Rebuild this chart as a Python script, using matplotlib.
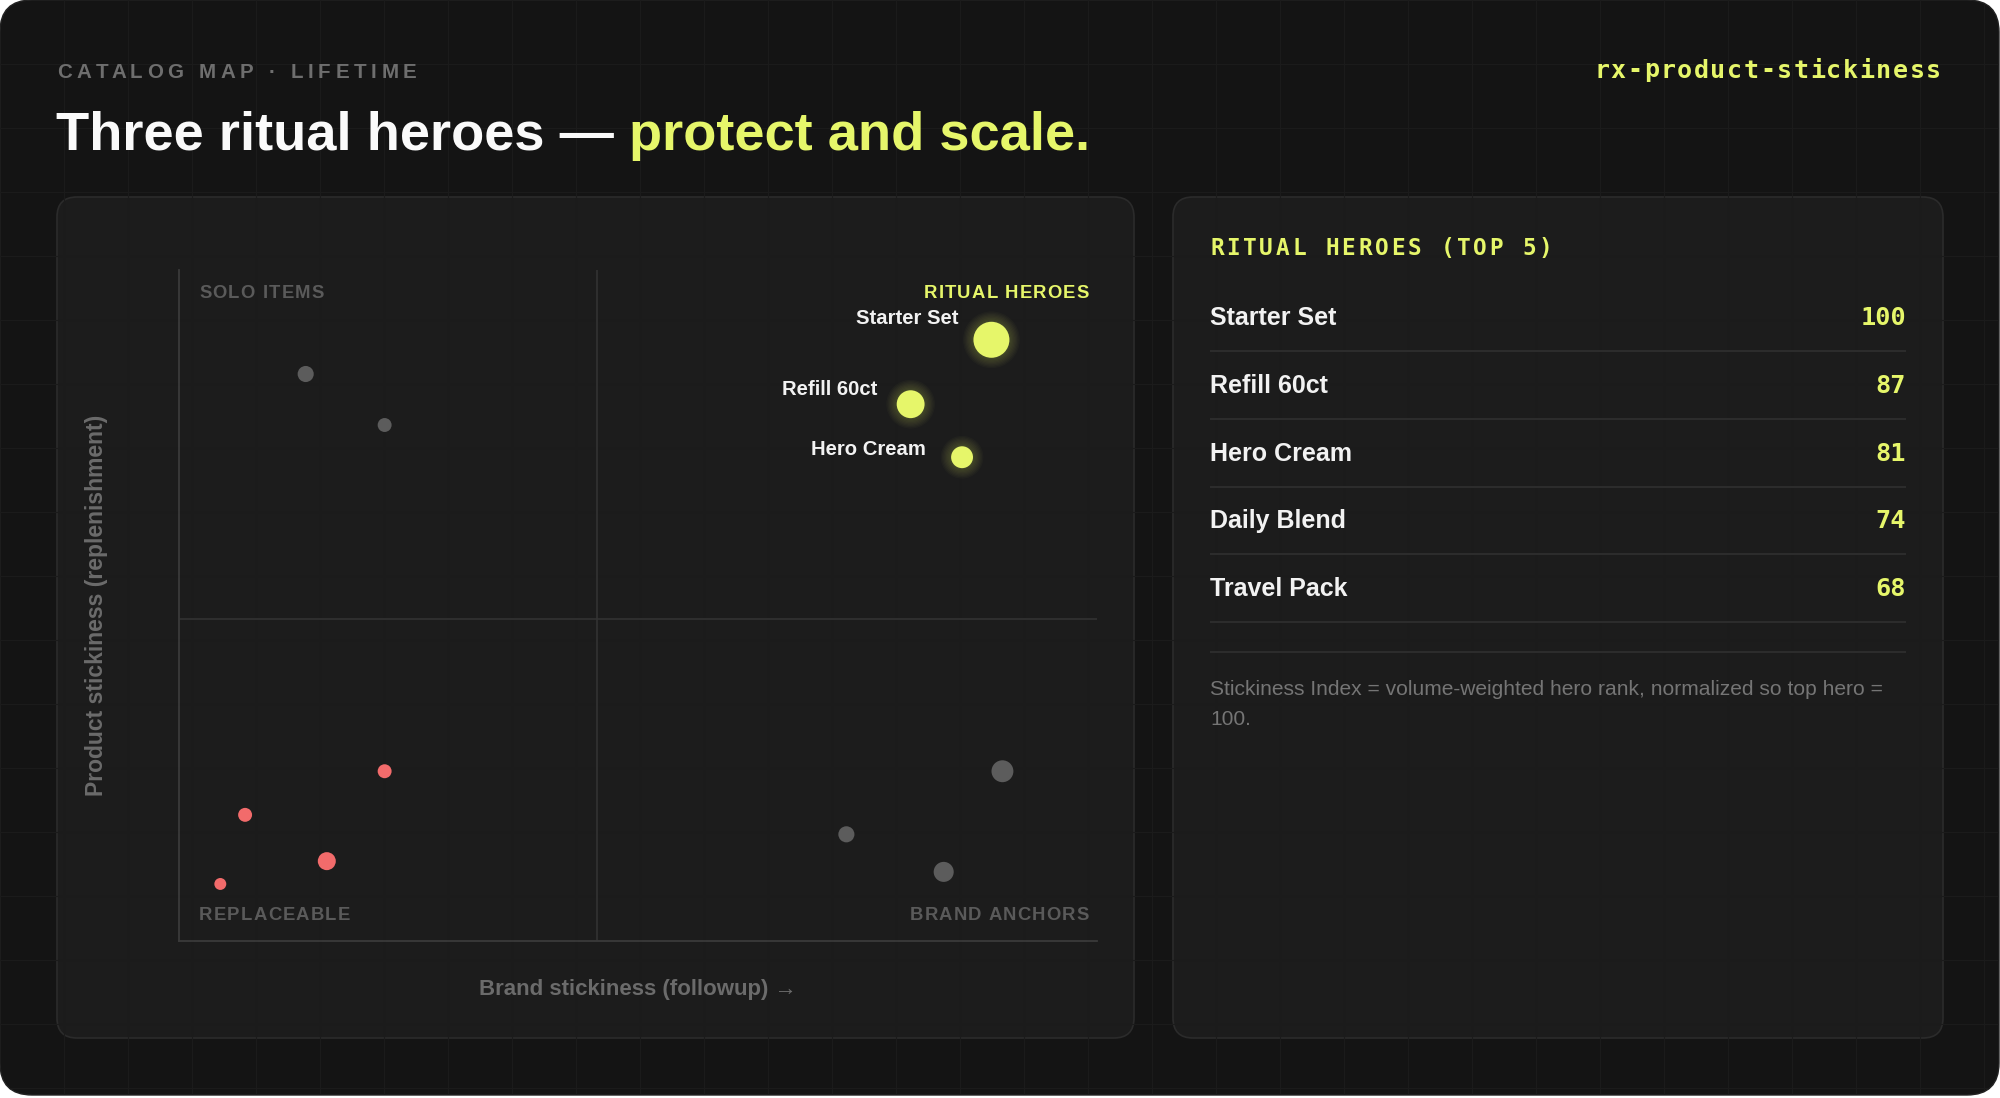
import matplotlib
matplotlib.use("Agg")
import numpy as np
import matplotlib.pyplot as plt
from matplotlib.patches import FancyBboxPatch
from matplotlib.font_manager import FontProperties

# ---------------------------------------------------------------------------
# data
hero_names = ["Starter Set", "Refill 60ct", "Hero Cream"]
hero_x = [88.5, 79.7, 85.3]
hero_y = [89.6, 80.0, 72.1]
hero_vol = [100, 60, 37]

solo_x = [13.8, 22.4]
solo_y = [84.5, 76.9]
solo_vol = [20, 15]

replace_x = [22.4, 7.2, 16.1, 4.5]
replace_y = [25.3, 18.8, 11.9, 8.5]
replace_vol = [15, 15, 25, 11]

anchor_x = [89.7, 72.7, 83.3]
anchor_y = [25.3, 15.9, 10.3]
anchor_vol = [37, 20, 31]

split_x = 45.5
split_y = 48.0

top_names = ["Starter Set", "Refill 60ct", "Hero Cream", "Daily Blend", "Travel Pack"]
top_index = [100, 87, 81, 74, 68]

footnote = ["Stickiness Index = volume-weighted hero rank, normalized so top hero =",
            "100."]

# ---------------------------------------------------------------------------
# style
W, H = 2000, 1098
BG = "#141414"
PANEL = "#1c1c1c"
PANEL_EDGE = "#2b2b2b"
YELLOW = "#e6f66a"
RED = "#f26b6b"
GREY_DOT = "#5c5c5c"
SANS = ["Liberation Sans", "DejaVu Sans"]
MONO = ["DejaVu Sans Mono"]

fig = plt.figure(figsize=(W / 100, H / 100), dpi=100, facecolor="white")
bg = fig.add_axes([0, 0, 1, 1])
bg.set_xlim(0, W)
bg.set_ylim(H, 0)
bg.axis("off")
renderer = fig.canvas.get_renderer()


def tracked(x, y, s, track, ha="left", **kw):
    """draw text char by char with extra letter spacing (pixels)"""
    fp = FontProperties(family=kw.get("family"), weight=kw.get("weight", "normal"),
                        size=kw.get("size"))

    def w(t):
        return renderer.get_text_width_height_descent(t, fp, ismath=False)[0]

    base = w("I")
    offs = [0.0] + [w(s[:i] + "I") - base + i * track for i in range(1, len(s))]
    total = w(s) + (len(s) - 1) * track
    x0 = x - total if ha == "right" else x
    for ch, o in zip(s, offs):
        bg.text(x0 + o, y, ch, ha="left", va="baseline", **kw)


# outer card with faint grid
card = FancyBboxPatch((0, 0), 1999, 1095, boxstyle="round,pad=0,rounding_size=32",
                      fc=BG, ec="#222222", lw=1)
bg.add_patch(card)
gv = bg.vlines(np.arange(64, W, 64), 0, H, color="#1b1b1b", lw=0.8)
gh = bg.hlines(np.arange(64, H, 64), 0, W, color="#1b1b1b", lw=0.8)
gv.set_clip_path(card)
gh.set_clip_path(card)

# panels
for x0, x1 in [(57, 1134), (1173, 1943)]:
    bg.add_patch(FancyBboxPatch((x0, 197), x1 - x0, 1038 - 197,
                                boxstyle="round,pad=0,rounding_size=20",
                                fc=PANEL, ec=PANEL_EDGE, lw=1.2))

# header
tracked(57, 78, "CATALOG MAP · LIFETIME", 4.7, family=SANS, weight="bold",
        size=14.8, color="#6e6e6e")
t_white = "Three ritual heroes — "
TSIZE = 39.1
bg.text(56, 150, t_white, family=SANS, weight="bold", size=TSIZE, color="#fafafa",
        va="baseline")
fp_title = FontProperties(family=SANS, weight="bold", size=TSIZE)
off = (renderer.get_text_width_height_descent(t_white + "I", fp_title, False)[0]
       - renderer.get_text_width_height_descent("I", fp_title, False)[0])
bg.text(56 + off, 150, "protect and scale.", family=SANS, weight="bold", size=TSIZE,
        color=YELLOW, va="baseline")
tracked(1941, 77.5, "rx-product-stickiness", 1.6, ha="right", family=MONO,
        weight="bold", size=18, color=YELLOW)

# ---------------------------------------------------------------------------
# quadrant scatter
PL, PT, PR, PB = 179, 270, 1097, 941
ax = fig.add_axes([PL / W, 1 - PB / H, (PR - PL) / W, (PB - PT) / H])
ax.set_facecolor("none")
ax.set_xlim(0, 100)
ax.set_ylim(0, 100)
ax.set_xticks([])
ax.set_yticks([])
for side in ["top", "right"]:
    ax.spines[side].set_visible(False)
for side in ["left", "bottom"]:
    ax.spines[side].set_color("#3a3a3a")
    ax.spines[side].set_linewidth(1.3)
ax.axvline(split_x, color="#343434", lw=1.1, zorder=1)
ax.axhline(split_y, color="#343434", lw=1.1, zorder=1)


def radius(vol):
    return 18 * np.sqrt(np.asarray(vol) / 100)


def area(r):
    return (2 * r * 0.72) ** 2


r_hero = radius(hero_vol)
for k in range(1, 9):
    ax.scatter(hero_x, hero_y, s=area(r_hero + 1.3 * k), color=YELLOW, alpha=0.028,
               lw=0, zorder=2)
ax.scatter(hero_x, hero_y, s=area(r_hero), color=YELLOW, lw=0, zorder=3)
ax.scatter(solo_x, solo_y, s=area(radius(solo_vol)), color=GREY_DOT, lw=0, zorder=3)
ax.scatter(anchor_x, anchor_y, s=area(radius(anchor_vol)), color=GREY_DOT, lw=0, zorder=3)
ax.scatter(replace_x, replace_y, s=area(radius(replace_vol)), color=RED, lw=0, zorder=3)

label_dx = [-33, -33, -36]
label_dy = [21, 15, 8]
for name, x, y, dx, dy in zip(hero_names, hero_x, hero_y, label_dx, label_dy):
    ax.annotate(name, (x, y), xytext=(dx, dy), textcoords="offset pixels",
                ha="right", va="center", family=SANS, weight="bold", size=14.6,
                color="#f2f2f2", zorder=4)

# quadrant captions
q_kw = dict(family=SANS, weight="bold", size=13.3)
tracked(PL + 20, PT + 28, "SOLO ITEMS", 1.2, color="#5a5a5a", **q_kw)
tracked(PR - 8, PT + 28, "RITUAL HEROES", 1.2, ha="right", color=YELLOW, **q_kw)
tracked(PL + 20, PB - 21, "REPLACEABLE", 1.2, color="#5a5a5a", **q_kw)
tracked(PR - 8, PB - 21, "BRAND ANCHORS", 1.2, ha="right", color="#5a5a5a", **q_kw)

ax.text(0.5, -(989 - PB) / (PB - PT), "Brand stickiness (followup) →", transform=ax.transAxes,
        ha="center", va="center", family=SANS, weight="bold", size=16, color="#6b6b6b")
ax.text(-(PL - 97) / (PR - PL), 0.5, "Product stickiness (replenishment)",
        transform=ax.transAxes, rotation=90, ha="center", va="center", family=SANS,
        weight="bold", size=16.5, color="#6b6b6b")

# ---------------------------------------------------------------------------
# right panel: top-5 table
tracked(1210, 255, "RITUAL HEROES (TOP 5)", 2.7, family=MONO, weight="bold",
        size=16.4, color=YELLOW)
row0, pitch = 325, 67.8
for i, (name, val) in enumerate(zip(top_names, top_index)):
    yb = row0 + i * pitch
    bg.text(1210, yb, name, family=SANS, weight="bold", size=18, color="#f2f2f2",
            va="baseline")
    bg.text(1906, yb, str(val), family=MONO, weight="bold", size=18.2, color=YELLOW,
            va="baseline", ha="right")
    bg.hlines(yb + 26, 1210, 1906, color="#2c2c2c", lw=1.5)
bg.hlines(row0 + (len(top_names) - 1) * pitch + 26 + 30, 1210, 1906, color="#2c2c2c", lw=1.5)
for j, line in enumerate(footnote):
    bg.text(1210, 695 + j * 30, line, family=SANS, size=15.1, color="#757575",
            va="baseline")

fig.savefig("out.png", dpi=100, facecolor=fig.get_facecolor())
